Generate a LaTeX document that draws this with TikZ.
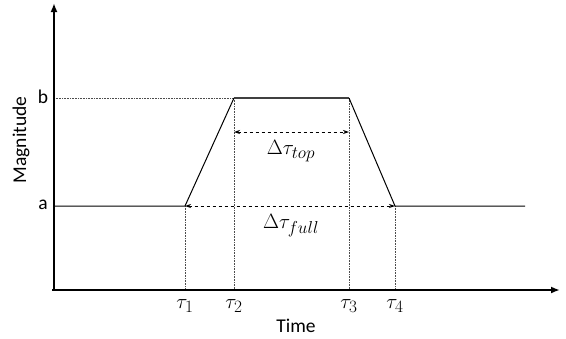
\documentclass[tikz,border=0pt]{standalone}
\usepackage{fontspec}
\setmainfont{Carlito}
\DeclareMathSizes{21}{21}{16}{12}
\usetikzlibrary{arrows.meta}
\begin{document}
\begin{tikzpicture}[x=1pt,y=-1pt,
  axis/.style={line width=2.2pt,-{Latex[length=9pt,width=7pt]}},
  guide/.style={densely dotted,line width=0.6pt,black!70},
  sig/.style={line width=1pt},
  span/.style={dashed,line width=0.8pt,{Stealth[length=6pt,width=4pt]}-{Stealth[length=6pt,width=4pt]}},
  lab/.style={font=\fontsize{19.5}{22}\selectfont},
  mlab/.style={font=\fontsize{21}{24}\selectfont}]
\useasboundingbox (0,0) rectangle (566,338);
% key coordinates
\coordinate (O) at (54,290);
\coordinate (ytop) at (54,3);
\coordinate (xend) at (560,290);
\coordinate (a0) at (54,206);
\coordinate (b0) at (54,98);
\coordinate (p1) at (185,206);
\coordinate (p2) at (234,98);
\coordinate (p3) at (349,98);
\coordinate (p4) at (395,206);
\coordinate (aend) at (525,206);
\coordinate (q1) at (185,290);
\coordinate (q2) at (234,290);
\coordinate (q3) at (349,290);
\coordinate (q4) at (395,290);
\coordinate (t2) at (234,132);
\coordinate (t3) at (349,132);
% guides
\draw[guide] (b0) -- (p2);
\draw[guide] (p1) -- (q1);
\draw[guide] (p2) -- (q2);
\draw[guide] (p3) -- (q3);
\draw[guide] (p4) -- (q4);
% signal
\draw[sig] (a0) -- (p1) -- (p2);
\draw[line width=1.6pt,black!75] (p2) -- (p3);
\draw[sig] (p3) -- (p4) -- (aend);
% spans
\draw[span] (t2) -- (t3);
\draw[span] (p1) -- (p4);
% axes
\draw[axis] (52,290) -- (xend);
\draw[axis] (O) -- (ytop);
% labels
\node[lab] (la) at (43,205) {a};
\node[lab] (lb) at (43,97) {b};
\node[lab,rotate=90] (mag) at (21,140) {Magnitude};
\node[lab] (time) at (296,326) {Time};
\node[mlab] (tau1) at (185,306) {$\tau_1$};
\node[mlab] (tau2) at (234,306) {$\tau_2$};
\node[mlab] (tau3) at (349,306) {$\tau_3$};
\node[mlab] (tau4) at (395,306) {$\tau_4$};
\node[mlab] (dtop) at (291,151) {$\Delta\tau_{top}$};
\node[mlab] (dfull) at (291,226) {$\Delta\tau_{full}$};
\end{tikzpicture}
\end{document}
